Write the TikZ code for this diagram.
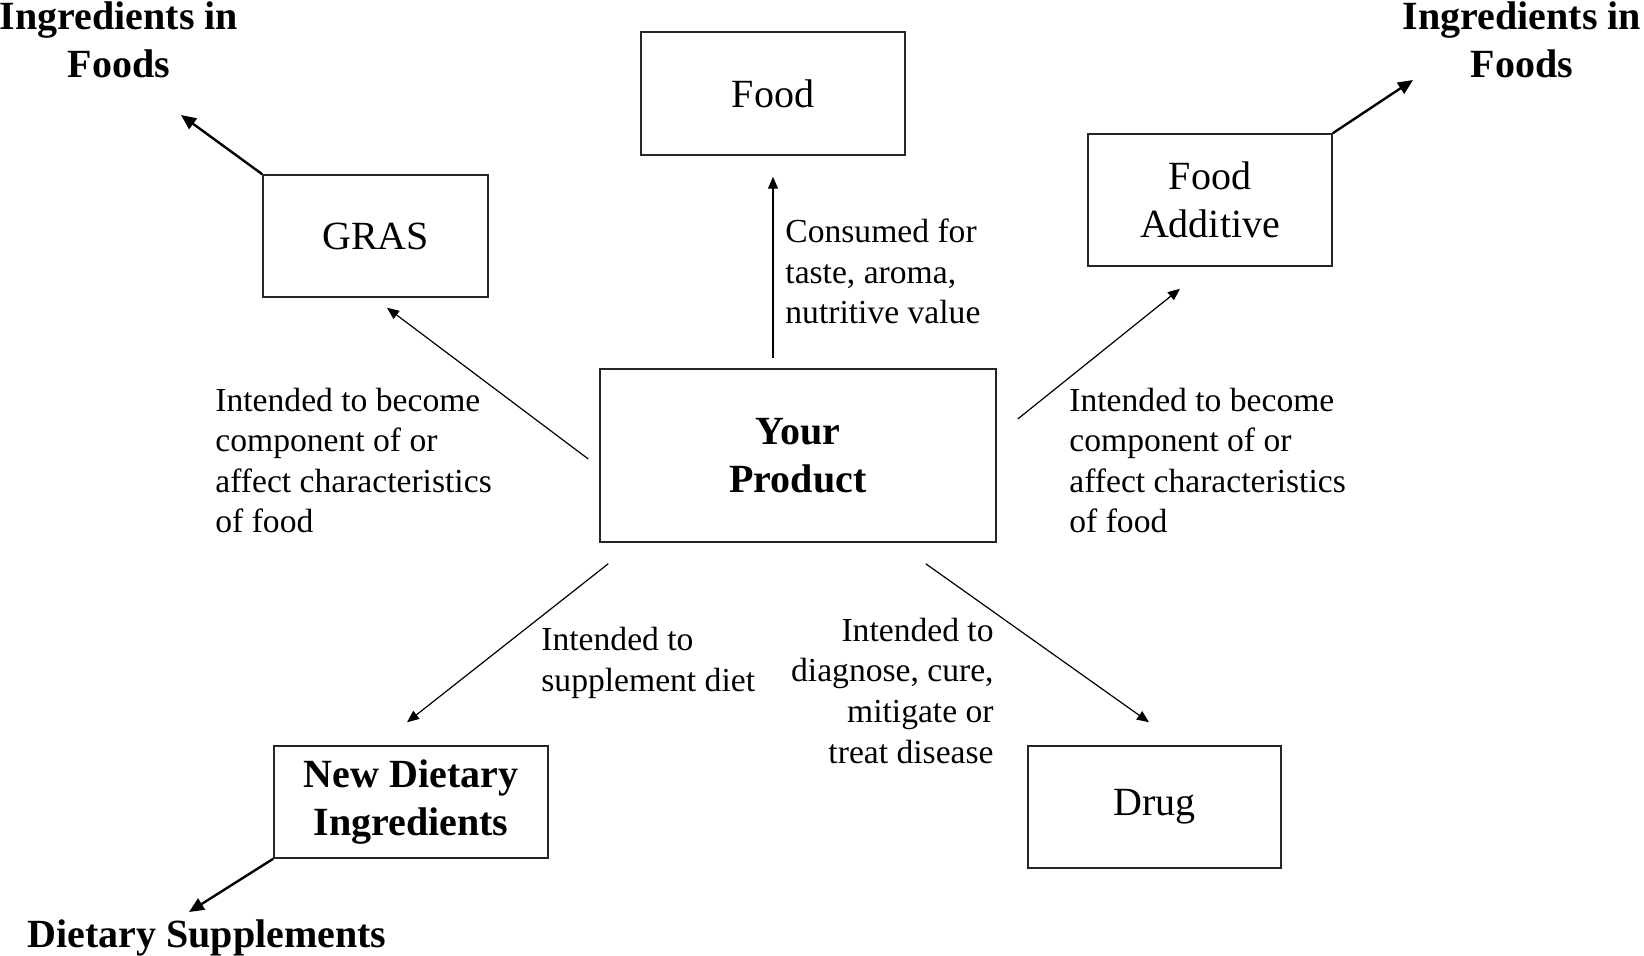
\documentclass[tikz,border=0pt]{standalone}
\usepackage{fontspec}
\setmainfont{Liberation Serif}
\usetikzlibrary{arrows.meta,calc}
\begin{document}
\begin{tikzpicture}[x=0.5pt,y=-0.5pt,
 box/.style={draw=black!85,line width=0.75pt,inner sep=0pt,font=\fontsize{20}{24}\selectfont,align=center},
 boxb/.style={box,font=\fontsize{20}{24}\selectfont\bfseries},
 lbl/.style={inner sep=0pt,font=\fontsize{16.8}{20.3}\selectfont},
 head/.style={inner sep=0pt,font=\fontsize{20}{24}\selectfont\bfseries,align=center},
 arr/.style={line width=0.6pt,-{Triangle[length=6pt,width=5pt]}},
 arrb/.style={line width=1.2pt,-{Triangle[length=7.5pt,width=6.5pt]}}]
\useasboundingbox (0,0) rectangle (1644,956);

\node[box,minimum width=112.5pt,minimum height=61pt] (gras) at (375.5,236) {GRAS};
\node[box,minimum width=132pt,minimum height=61.5pt] (food) at (773,93.5) {Food};
\node[box,minimum width=122pt,minimum height=66pt] (add) at (1210,200) {Food\\Additive};
\node[boxb,minimum width=198pt,minimum height=86.5pt] (prod) at (798,455.5) {Your\\Product};
\node[boxb,minimum width=137pt,minimum height=56pt] (ndi) at (411,802) {New Dietary\\Ingredients};
\node[box,minimum width=126.5pt,minimum height=61pt] (drug) at (1154.5,807) {Drug};

\node[head,anchor=base] (ingl) at (119,77.5) {Ingredients in\\Foods};
\node[head,anchor=base] (ingr) at (1522,77.5) {Ingredients in\\Foods};
\node[head,anchor=base] (supp) at (207,947) {Dietary Supplements};

\node[lbl,align=left,anchor=base west] (lcons) at (785,324) {Consumed for\\taste, aroma,\\nutritive value};
\node[lbl,align=left,anchor=base west] (lgras) at (215,533) {Intended to become\\component of or\\affect characteristics\\of food};
\node[lbl,align=left,anchor=base west] (ladd) at (1069,533) {Intended to become\\component of or\\affect characteristics\\of food};
\node[lbl,align=left,anchor=base west] (lndi) at (541,691) {Intended to\\supplement diet};
\node[lbl,align=right,anchor=base east] (ldrug) at (994,763) {Intended to\\diagnose, cure,\\mitigate or\\treat disease};

\coordinate (pl) at (181,115);
\coordinate (pr) at (1413,80);
\coordinate (pd) at (189,912);

\draw[arr] ($(food.south |- prod.north)+(0,5pt)$) -- ($(food.south)+(0,-10.5pt)$);
\draw[arr] ($(prod.west)+(-5.5pt,-1.75pt)$) -- ($(gras.south)+(5.75pt,-5pt)$);
\draw[arr] ($(prod.east)+(10.5pt,18.25pt)$) -- ($(add.south)+(-15pt,-11pt)$);
\draw[arr] ($(prod.south west)+(4.5pt,-10.5pt)$) -- ($(ndi.north)+(-2pt,11.5pt)$);
\draw[arr] ($(prod.south east)+(-35.5pt,-10.5pt)$) -- ($(drug.north)+(-2.75pt,11.5pt)$);
\draw[arrb] (gras.north west) -- (pl);
\draw[arrb] (add.north east) -- (pr);
\draw[arrb] (ndi.south west) -- (pd);
\end{tikzpicture}
\end{document}
